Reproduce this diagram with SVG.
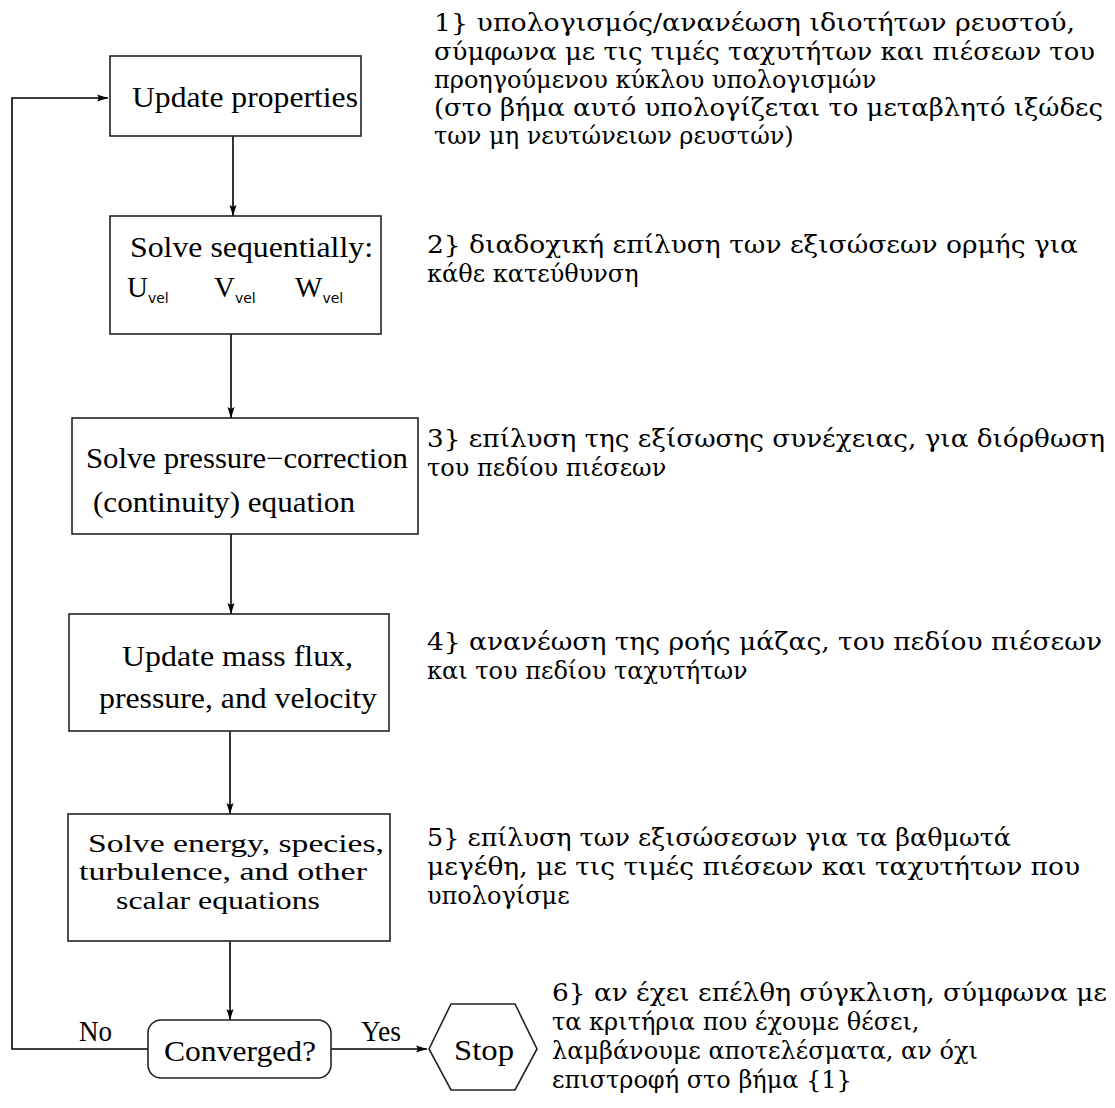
<svg xmlns="http://www.w3.org/2000/svg" width="1115" height="1108" viewBox="0 0 1115 1108">
<defs>
<marker id="ah" markerWidth="12" markerHeight="8" refX="11" refY="4" orient="auto" markerUnits="userSpaceOnUse"><path d="M0,0.5 L11,4 L0,7.5 L2,4 Z" fill="#000"/></marker>
<style>
.box{fill:#fff;stroke:#222;stroke-width:1.6}
.bt{font-family:"Liberation Serif","DejaVu Serif",serif;font-size:29px;fill:#000}
.bs{font-family:"Liberation Serif","DejaVu Serif",serif;font-size:25px;fill:#000}
.sub{font-family:"DejaVu Sans","Liberation Sans",sans-serif;font-size:14px}
.gr{font-family:"DejaVu Serif","Liberation Serif",serif;font-size:24px;fill:#000}
.ln{fill:none;stroke:#000;stroke-width:1.6}
</style>
</defs>
<rect width="1115" height="1108" fill="#fff"/>
<g id="connectors">
<line class="ln" x1="233" y1="136" x2="233" y2="216" marker-end="url(#ah)"/>
<line class="ln" x1="231" y1="334" x2="231" y2="418" marker-end="url(#ah)"/>
<line class="ln" x1="231" y1="534" x2="231" y2="614" marker-end="url(#ah)"/>
<line class="ln" x1="230" y1="731" x2="230" y2="814" marker-end="url(#ah)"/>
<line class="ln" x1="230" y1="941" x2="230" y2="1020" marker-end="url(#ah)"/>
<polyline class="ln" points="148,1049 12,1049 12,98 108,98" marker-end="url(#ah)"/>
<line class="ln" x1="331" y1="1049" x2="427" y2="1049" marker-end="url(#ah)"/>
<text class="bt" x="79" y="1041" textLength="33" lengthAdjust="spacingAndGlyphs">No</text>
<text class="bt" x="361" y="1041" textLength="40" lengthAdjust="spacingAndGlyphs">Yes</text>
</g>
<g id="n1">
<rect class="box" x="110" y="56" width="251" height="80"/>
<text class="bt" x="132" y="107" textLength="226" lengthAdjust="spacingAndGlyphs">Update properties</text>
</g>
<g id="n2">
<rect class="box" x="110" y="216" width="271" height="118"/>
<text class="bt" x="130" y="257" textLength="243" lengthAdjust="spacingAndGlyphs">Solve sequentially:</text>
<text class="bt" x="127" y="297">U<tspan class="sub" dy="6">vel</tspan></text>
<text class="bt" x="214" y="297">V<tspan class="sub" dy="6">vel</tspan></text>
<text class="bt" x="295" y="297">W<tspan class="sub" dy="6">vel</tspan></text>
</g>
<g id="n3">
<rect class="box" x="72" y="418" width="346" height="116"/>
<text class="bt" x="86" y="468" textLength="322" lengthAdjust="spacingAndGlyphs">Solve pressure−correction</text>
<text class="bt" x="93" y="512" textLength="262" lengthAdjust="spacingAndGlyphs">(continuity) equation</text>
</g>
<g id="n4">
<rect class="box" x="69" y="614" width="320" height="117"/>
<text class="bt" x="122" y="666" textLength="231" lengthAdjust="spacingAndGlyphs">Update mass flux,</text>
<text class="bt" x="99" y="708" textLength="278" lengthAdjust="spacingAndGlyphs">pressure, and velocity</text>
</g>
<g id="n5">
<rect class="box" x="68" y="814" width="322" height="127"/>
<text class="bs" x="88" y="852" textLength="296" lengthAdjust="spacingAndGlyphs">Solve energy, species,</text>
<text class="bs" x="79" y="880" textLength="288" lengthAdjust="spacingAndGlyphs">turbulence, and other</text>
<text class="bs" x="116" y="909" textLength="204" lengthAdjust="spacingAndGlyphs">scalar equations</text>
</g>
<g id="n6">
<rect class="box" x="148" y="1020" width="183" height="58" rx="13"/>
<text class="bt" x="164" y="1061" textLength="152" lengthAdjust="spacingAndGlyphs">Converged?</text>
</g>
<g id="n7">
<polygon class="box" points="429,1049 451,1004 515,1004 537,1049 515,1090 451,1090"/>
<text class="bt" x="454" y="1060" textLength="60" lengthAdjust="spacingAndGlyphs">Stop</text>
</g>
<g id="notes">
<text class="gr" x="434" y="31" textLength="641" lengthAdjust="spacingAndGlyphs">1} υπολογισμός/ανανέωση ιδιοτήτων ρευστού,</text>
<text class="gr" x="434" y="60" textLength="661" lengthAdjust="spacingAndGlyphs">σύμφωνα με τις τιμές ταχυτήτων και πιέσεων του</text>
<text class="gr" x="434" y="88">προηγούμενου κύκλου υπολογισμών</text>
<text class="gr" x="434" y="116" textLength="669" lengthAdjust="spacingAndGlyphs">(στο βήμα αυτό υπολογίζεται το μεταβλητό ιξώδες</text>
<text class="gr" x="434" y="144">των μη νευτώνειων ρευστών)</text>
<text class="gr" x="427" y="253" textLength="651" lengthAdjust="spacingAndGlyphs">2} διαδοχική επίλυση των εξισώσεων ορμής για</text>
<text class="gr" x="427" y="282">κάθε κατεύθυνση</text>
<text class="gr" x="427" y="447" textLength="678" lengthAdjust="spacingAndGlyphs">3} επίλυση της εξίσωσης συνέχειας, για διόρθωση</text>
<text class="gr" x="427" y="476">του πεδίου πιέσεων</text>
<text class="gr" x="427" y="650" textLength="675" lengthAdjust="spacingAndGlyphs">4} ανανέωση της ροής μάζας, του πεδίου πιέσεων</text>
<text class="gr" x="427" y="679">και του πεδίου ταχυτήτων</text>
<text class="gr" x="427" y="846" textLength="584" lengthAdjust="spacingAndGlyphs">5} επίλυση των εξισώσεσων για τα βαθμωτά</text>
<text class="gr" x="427" y="875" textLength="653" lengthAdjust="spacingAndGlyphs">μεγέθη, με τις τιμές πιέσεων και ταχυτήτων που</text>
<text class="gr" x="427" y="904">υπολογίσμε</text>
<text class="gr" x="552" y="1001" textLength="555" lengthAdjust="spacingAndGlyphs">6} αν έχει επέλθη σύγκλιση, σύμφωνα με</text>
<text class="gr" x="552" y="1030">τα κριτήρια που έχουμε θέσει,</text>
<text class="gr" x="552" y="1059">λαμβάνουμε αποτελέσματα, αν όχι</text>
<text class="gr" x="552" y="1088">επιστροφή στο βήμα {1}</text>
</g>
</svg>
